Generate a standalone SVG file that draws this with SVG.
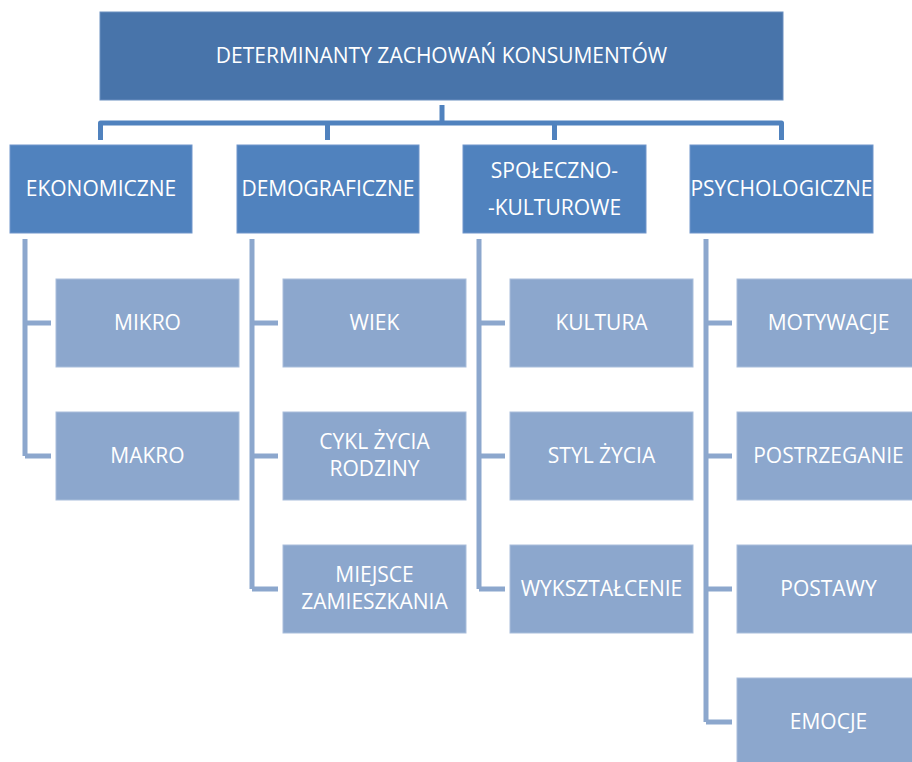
<svg xmlns="http://www.w3.org/2000/svg" width="912" height="762" viewBox="0 0 912 762">
<style>
  text { font-family: "Open Sans", "Noto Sans", sans-serif; font-size: 21px; fill: #ffffff; text-anchor: middle; }
  .root { fill: #4874AA; stroke: #6A8FC0; stroke-width: 1; }
  .l2 { fill: #5082BE; stroke: #7096CB; stroke-width: 1; }
  .l3 { fill: #8CA7CD; stroke: #A9BEDB; stroke-width: 1; }
  .c1 { fill: none; stroke: #5082BE; stroke-width: 5; stroke-linejoin: round; }
  .c2 { fill: none; stroke: #8CA7CD; stroke-width: 5; stroke-linejoin: round; }
</style>
<rect width="912" height="762" fill="#ffffff"/>
<g id="connectors">
  <path class="c1" d="M442,105 V123 M100.5,140 V123 H781.5 V140 M327.5,123 V140 M554.5,123 V140"/>
  <path class="c2" d="M25,239 V456 M25,323 H51 M25,456 H51"/>
  <path class="c2" d="M252,239 V589 M252,323 H278 M252,456 H278 M252,589 H278"/>
  <path class="c2" d="M479,239 V589 M479,323 H505 M479,456 H505 M479,589 H505"/>
  <path class="c2" d="M706,239 V722 M706,323 H732 M706,456 H732 M706,589 H732 M706,722 H732"/>
</g>
<g id="root">
  <rect class="root" x="100" y="12" width="683" height="88"/>
  <text x="441.5" y="63">DETERMINANTY ZACHOWAŃ KONSUMENTÓW</text>
</g>
<g id="ekonomiczne">
  <rect class="l2" x="10" y="145" width="182" height="88"/>
  <text x="101" y="196">EKONOMICZNE</text>
</g>
<g id="demograficzne">
  <rect class="l2" x="237" y="145" width="182" height="88"/>
  <text x="328" y="196">DEMOGRAFICZNE</text>
</g>
<g id="spoleczno">
  <rect class="l2" x="463" y="145" width="183" height="88"/>
  <text x="554.5" y="178">SPOŁECZNO-</text>
  <text x="554.5" y="215">-KULTUROWE</text>
</g>
<g id="psychologiczne">
  <rect class="l2" x="690" y="145" width="183" height="88"/>
  <text x="781.5" y="196">PSYCHOLOGICZNE</text>
</g>
<g id="mikro">
  <rect class="l3" x="56" y="279" width="183" height="88"/>
  <text x="147.5" y="330">MIKRO</text>
</g>
<g id="makro">
  <rect class="l3" x="56" y="412" width="183" height="88"/>
  <text x="147.5" y="463">MAKRO</text>
</g>
<g id="wiek">
  <rect class="l3" x="283" y="279" width="183" height="88"/>
  <text x="374.5" y="330">WIEK</text>
</g>
<g id="cykl">
  <rect class="l3" x="283" y="412" width="183" height="88"/>
  <text x="374.5" y="449">CYKL ŻYCIA</text>
  <text x="374.5" y="476">RODZINY</text>
</g>
<g id="miejsce">
  <rect class="l3" x="283" y="545" width="183" height="88"/>
  <text x="374.5" y="582">MIEJSCE</text>
  <text x="374.5" y="609">ZAMIESZKANIA</text>
</g>
<g id="kultura">
  <rect class="l3" x="510" y="279" width="183" height="88"/>
  <text x="601.5" y="330">KULTURA</text>
</g>
<g id="styl">
  <rect class="l3" x="510" y="412" width="183" height="88"/>
  <text x="601.5" y="463">STYL ŻYCIA</text>
</g>
<g id="wyksztalcenie">
  <rect class="l3" x="510" y="545" width="183" height="88"/>
  <text x="601.5" y="596">WYKSZTAŁCENIE</text>
</g>
<g id="motywacje">
  <rect class="l3" x="737" y="279" width="183" height="88"/>
  <text x="828.5" y="330">MOTYWACJE</text>
</g>
<g id="postrzeganie">
  <rect class="l3" x="737" y="412" width="183" height="88"/>
  <text x="828.5" y="463">POSTRZEGANIE</text>
</g>
<g id="postawy">
  <rect class="l3" x="737" y="545" width="183" height="88"/>
  <text x="828.5" y="596">POSTAWY</text>
</g>
<g id="emocje">
  <rect class="l3" x="737" y="678" width="183" height="88"/>
  <text x="828.5" y="729">EMOCJE</text>
</g>
</svg>
